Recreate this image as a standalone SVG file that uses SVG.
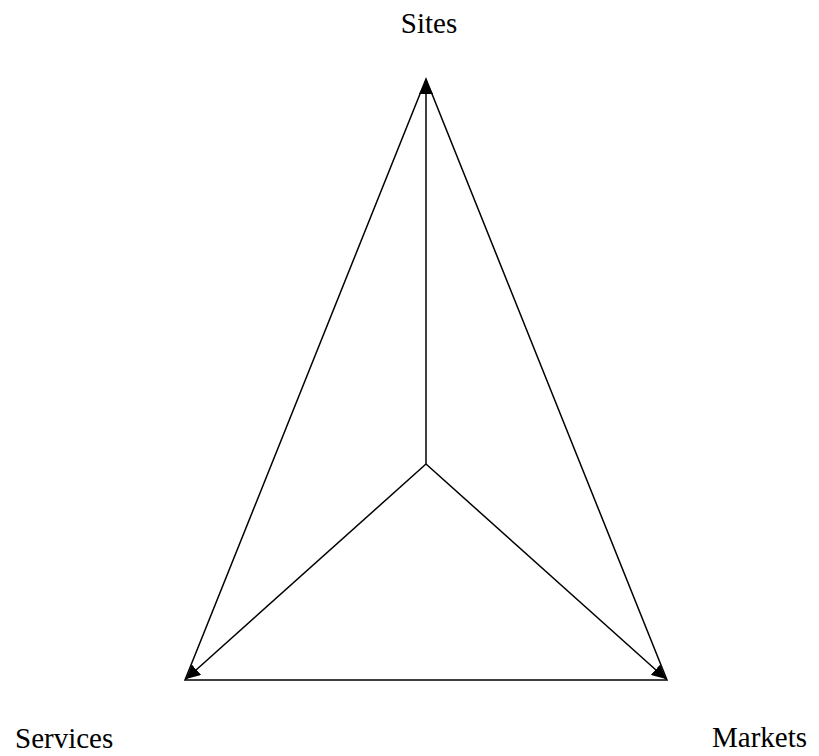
<svg xmlns="http://www.w3.org/2000/svg" width="819" height="756" viewBox="0 0 819 756">
<style>
.l{stroke:#000;stroke-width:1.5;fill:none}
.t{font-family:"Liberation Serif",serif;font-size:29px;fill:#000}
</style>
<defs>
<marker id="a" viewBox="0 0 10 10" refX="10" refY="5" markerWidth="14" markerHeight="14" markerUnits="userSpaceOnUse" orient="auto">
<path d="M0,0L10,5L0,10z" fill="#000"/>
</marker>
</defs>
<rect width="819" height="756" fill="#fff"/>
<g id="connectors">
<path class="l" d="M426,79L185,680L667,680Z"/>
<line class="l" x1="426" y1="464" x2="426" y2="80" marker-end="url(#a)"/>
<line class="l" x1="426" y1="464" x2="186" y2="679" marker-end="url(#a)"/>
<line class="l" x1="426" y1="464" x2="666" y2="679" marker-end="url(#a)"/>
</g>
<g id="sites"><text class="t" x="429" y="33" text-anchor="middle">Sites</text></g>
<g id="services"><text class="t" x="15" y="748">Services</text></g>
<g id="markets"><text class="t" x="712" y="747">Markets</text></g>
</svg>
